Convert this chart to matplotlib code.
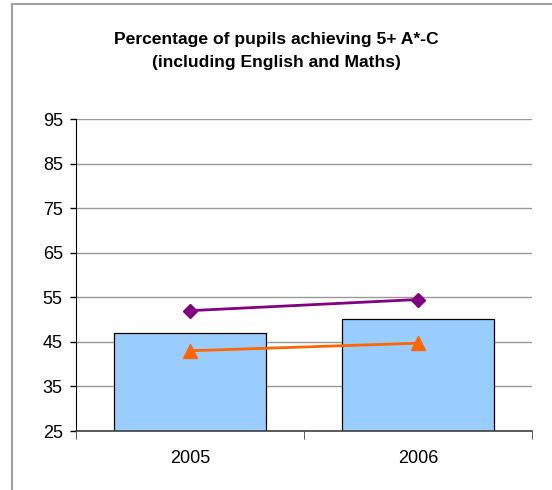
import matplotlib
matplotlib.use('Agg')
import matplotlib.pyplot as plt
from matplotlib.patches import Rectangle
import numpy as np

plt.rcParams['font.family'] = ['Liberation Sans', 'DejaVu Sans']

# Data for the two school years
years = ['2005', '2006']
school_pct = [46.9, 50.2]     # bars
national_pct = [52.0, 54.5]   # purple diamonds
la_pct = [43.0, 44.7]         # orange triangles
yticks = [25, 35, 45, 55, 65, 75, 85, 95]

fig = plt.figure(figsize=(5.52, 4.9), dpi=100)

# chart area border (only left/top show inside the image)
fig.patches.append(Rectangle((12 / 552, -0.1), 1.2, (490 - 4.5) / 490 + 0.1,
                             transform=fig.transFigure, fill=False,
                             edgecolor='#a0a0a0', linewidth=1.5))

ax = fig.add_axes([76 / 552, 1 - 431 / 490, 456 / 552, 312 / 490])

x = np.arange(len(years))
ax.bar(x, school_pct, width=0.665, bottom=0, color='#99ccff',
       edgecolor='black', linewidth=0.9, zorder=2)
ax.plot(x, national_pct, color='#800080', marker='D', markersize=7,
        linewidth=2, zorder=3)
ax.plot(x, la_pct, color='#ff6600', marker='^', markersize=10,
        linewidth=2, zorder=3)

ax.set_xlim(-0.5, 1.5)
ax.set_ylim(25, 95)
ax.set_yticks(yticks)
ax.set_yticklabels([str(v) for v in yticks], fontsize=13)
ax.yaxis.grid(True, color='#999999', linewidth=1)
ax.set_axisbelow(True)

ax.set_xticks(x)
ax.set_xticklabels(years, fontsize=13)
ax.tick_params(axis='x', length=0, pad=14)
ax.set_xticks([-0.5, 0.5, 1.5], minor=True)
ax.tick_params(axis='x', which='minor', length=6, color='#404040')
ax.tick_params(axis='y', length=4.5, width=1, pad=5)

for side in ['top', 'right']:
    ax.spines[side].set_visible(False)
ax.spines['left'].set_color('black')
ax.spines['bottom'].set_color('#404040')
ax.spines['bottom'].set_linewidth(1.2)

fig.text(0.5, 1 - 51 / 490,
         'Percentage of pupils achieving 5+ A*-C\n(including English and Maths)',
         ha='center', va='center', fontsize=12.6, fontweight='bold',
         linespacing=1.6)

fig.savefig('out.png', dpi=100)
